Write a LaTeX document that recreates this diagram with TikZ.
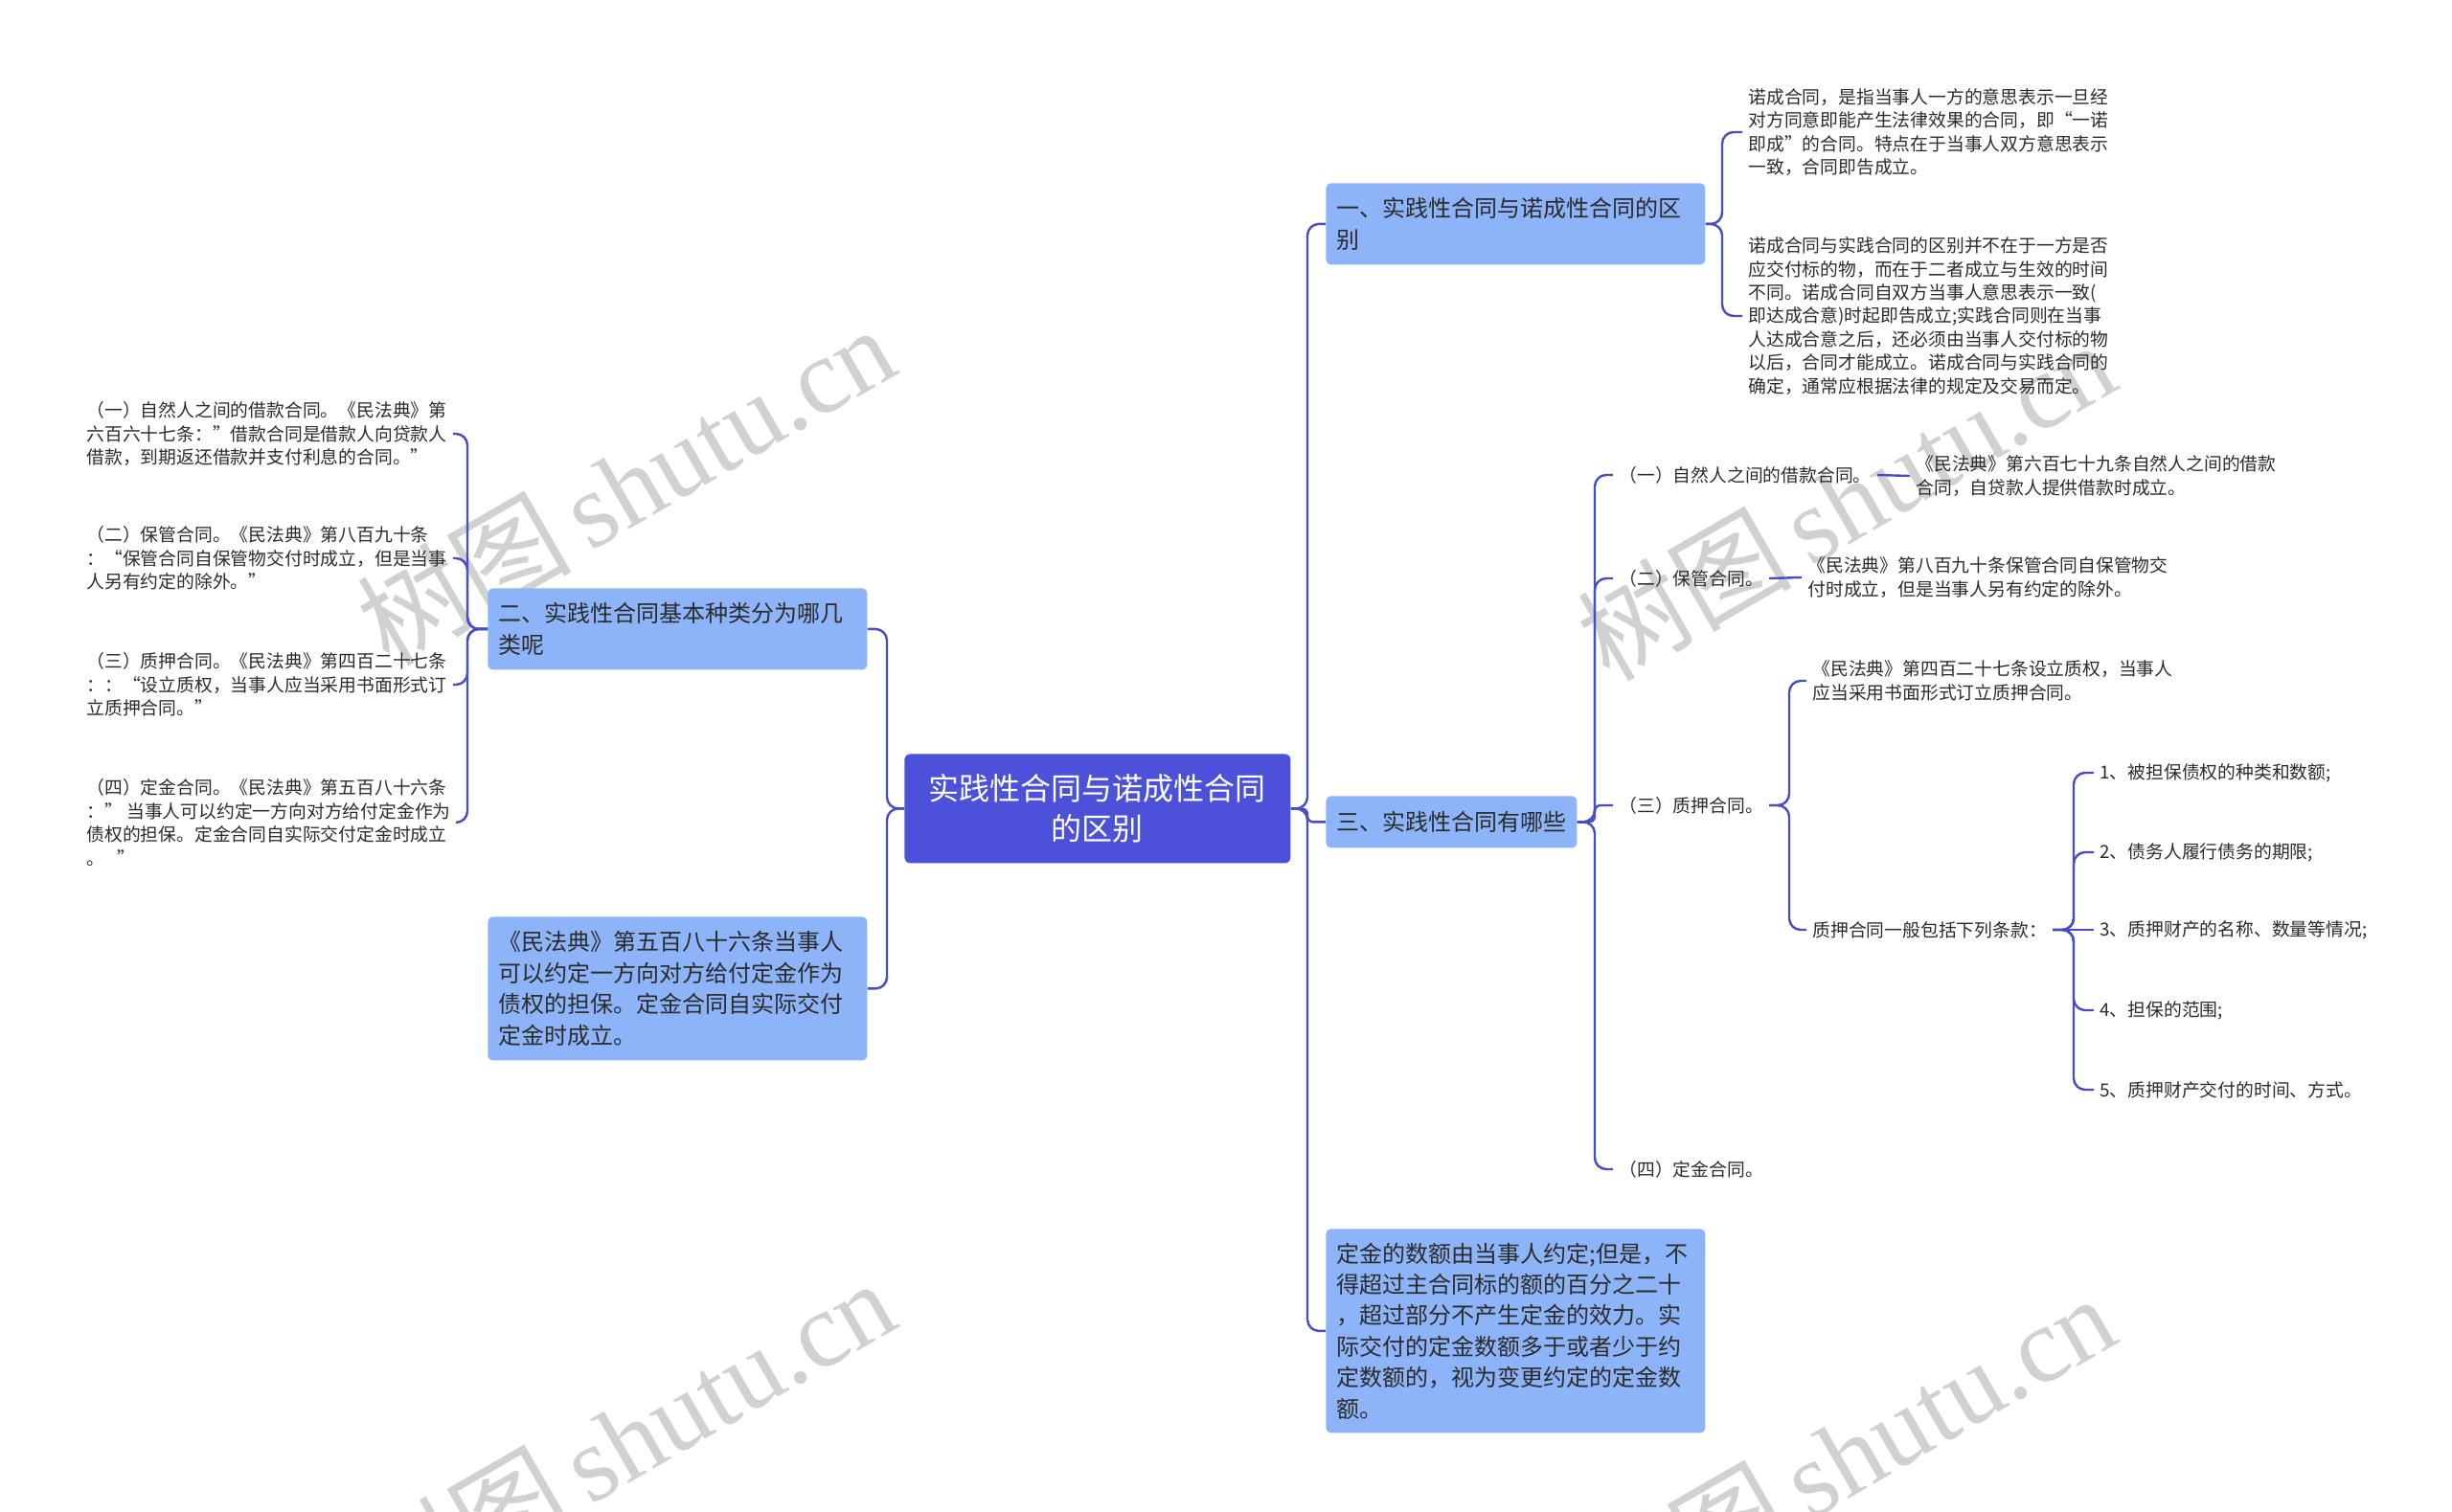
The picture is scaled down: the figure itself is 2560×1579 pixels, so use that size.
\documentclass[tikz,border=0pt]{standalone}
\usepackage{fontspec}
\setmainfont{Noto Sans CJK SC}
\newfontfamily\wmserif{Liberation Serif}
\definecolor{ctrC}{HTML}{4B51D8}
\definecolor{brC}{HTML}{8DB4F8}
\definecolor{lnC}{HTML}{474DC2}
\definecolor{txC}{HTML}{2B2B2B}
\tikzset{
  conn/.style={draw=lnC, line width=1.2pt, rounded corners=6pt},
  leaf/.style={anchor=west, inner xsep=3pt, inner ysep=2pt, align=left, text=txC, font=\fontsize{9.4pt}{12.2pt}\selectfont},
  box/.style={anchor=north west, fill=brC, rounded corners=2.5pt, text width=187pt, inner xsep=5.5pt, inner ysep=0pt, align=left, text=txC, font=\fontsize{12pt}{16.2pt}\selectfont},
  ctrbox/.style={anchor=north west, fill=ctrC, rounded corners=3pt, text=white, minimum width=201.5pt, minimum height=57pt, inner sep=0pt, align=center, font=\fontsize{16pt}{21pt}\selectfont},
  wm/.style={rotate=30, text=black!18, font=\fontsize{56pt}{60pt}\selectfont}
}
\begin{document}
\begin{tikzpicture}[x=0.5pt,y=-0.5pt]
\useasboundingbox (0,0) rectangle (2560,1579);
% watermarks
\node[wm] (w1) at (653,506) {树图\,{\wmserif shutu.cn}};
\node[wm] (w2) at (1927,522) {树图\,{\wmserif shutu.cn}};
\node[wm] (w3) at (653,1502) {树图\,{\wmserif shutu.cn}};
\node[wm] (w4) at (1927,1518) {树图\,{\wmserif shutu.cn}};
% trunk coordinates
\coordinate (tR) at (1365,0);
\coordinate (tL) at (926,0);
\coordinate (t1) at (1798,0);
\coordinate (t2) at (488,0);
\coordinate (t3) at (1665,0);
\coordinate (t33) at (1868,0);
\coordinate (t33b) at (2165,0);
% main nodes
\node[ctrbox] (c) at (944,787) {实践性合同与诺成性合同\\的区别};
\node[box, minimum height=42.5pt] (b1) at (1384,191) {一、实践性合同与诺成性合同的区\\别};
\node[box, text width=120pt, minimum height=27pt] (b3) at (1384,831) {三、实践性合同有哪些};
\node[box, minimum height=106.5pt] (b4) at (1384,1283) {定金的数额由当事人约定;但是，不\\得超过主合同标的额的百分之二十\\，超过部分不产生定金的效力。实\\际交付的定金数额多于或者少于约\\定数额的，视为变更约定的定金数\\额。};
\node[box, minimum height=42.5pt] (b2) at (509,614) {二、实践性合同基本种类分为哪几\\类呢};
\node[box, minimum height=75pt] (b5) at (509,957) {《民法典》第五百八十六条当事人\\可以约定一方向对方给付定金作为\\债权的担保。定金合同自实际交付\\定金时成立。};
% branch 1 leaves
\node[leaf] (r11) at (1819,138) {诺成合同，是指当事人一方的意思表示一旦经\\对方同意即能产生法律效果的合同，即“一诺\\即成”的合同。特点在于当事人双方意思表示\\一致，合同即告成立。};
\node[leaf] (r12) at (1819,330) {诺成合同与实践合同的区别并不在于一方是否\\应交付标的物，而在于二者成立与生效的时间\\不同。诺成合同自双方当事人意思表示一致(\\即达成合意)时起即告成立;实践合同则在当事\\人达成合意之后，还必须由当事人交付标的物\\以后，合同才能成立。诺成合同与实践合同的\\确定，通常应根据法律的规定及交易而定。};
% branch 2 leaves
\node[leaf] (l1) at (84,453) {（一）自然人之间的借款合同。《民法典》第\\六百六十七条：”借款合同是借款人向贷款人\\借款，到期返还借款并支付利息的合同。”};
\node[leaf] (l2) at (84,583) {（二）保管合同。《民法典》第八百九十条\\：“保管合同自保管物交付时成立，但是当事\\人另有约定的除外。”};
\node[leaf] (l3) at (84,715) {（三）质押合同。《民法典》第四百二十七条\\：：“设立质权，当事人应当采用书面形式订\\立质押合同。”};
\node[leaf] (l4) at (84,859) {（四）定金合同。《民法典》第五百八十六条\\：” 当事人可以约定一方向对方给付定金作为\\债权的担保。定金合同自实际交付定金时成立\\。\hspace{0.7em}”};
% branch 3 leaves
\node[leaf] (c31) at (1684,496) {（一）自然人之间的借款合同。};
\node[leaf] (c31l) at (1994,497) {《民法典》第六百七十九条自然人之间的借款\\合同，自贷款人提供借款时成立。};
\node[leaf] (c32) at (1684,604) {（二）保管合同。};
\node[leaf] (c32l) at (1881,603) {《民法典》第八百九十条保管合同自保管物交\\付时成立，但是当事人另有约定的除外。};
\node[leaf] (c33) at (1684,841) {（三）质押合同。};
\node[leaf] (c33a) at (1886,711) {《民法典》第四百二十七条设立质权，当事人\\应当采用书面形式订立质押合同。};
\node[leaf] (c33b) at (1886,971) {质押合同一般包括下列条款：};
\node[leaf] (i1) at (2186,807) {1、被担保债权的种类和数额;};
\node[leaf] (i2) at (2186,890) {2、债务人履行债务的期限;};
\node[leaf] (i3) at (2186,971) {3、质押财产的名称、数量等情况;};
\node[leaf] (i4) at (2186,1055) {4、担保的范围;};
\node[leaf] (i5) at (2186,1138) {5、质押财产交付的时间、方式。};
\node[leaf] (c34) at (1684,1221) {（四）定金合同。};
% connectors: center
\draw[conn] (c.east) -- (c.east -| tR) |- (b1.west);
\draw[conn] (c.east) -- (c.east -| tR) |- (b4.west);
\draw[conn, rounded corners=3pt] (c.east) -- (c.east -| tR) |- (b3.west);
\draw[conn] (c.west) -- (c.west -| tL) |- (b2.east);
\draw[conn] (c.west) -- (c.west -| tL) |- (b5.east);
% branch 1
\draw[conn] (b1.east) -- (b1.east -| t1) |- (r11.west);
\draw[conn] (b1.east) -- (b1.east -| t1) |- (r12.west);
% branch 2
\draw[conn] (b2.west) -- (b2.west -| t2) |- (l1.east);
\draw[conn] (b2.west) -- (b2.west -| t2) |- (l2.east);
\draw[conn] (b2.west) -- (b2.west -| t2) |- (l3.east);
\draw[conn] (b2.west) -- (b2.west -| t2) |- (l4.east);
% branch 3
\draw[conn] (b3.east) -- (b3.east -| t3) |- (c31.west);
\draw[conn] (b3.east) -- (b3.east -| t3) |- (c32.west);
\draw[conn, rounded corners=3pt] (b3.east) -- (b3.east -| t3) |- (c33.west);
\draw[conn] (b3.east) -- (b3.east -| t3) |- (c34.west);
\draw[conn] (c31.east) -- (c31l.west);
\draw[conn] (c32.east) -- (c32l.west);
\draw[conn] (c33.east) -- (c33.east -| t33) |- (c33a.west);
\draw[conn] (c33.east) -- (c33.east -| t33) |- (c33b.west);
\draw[conn] (c33b.east) -- (c33b.east -| t33b) |- (i1.west);
\draw[conn] (c33b.east) -- (c33b.east -| t33b) |- (i2.west);
\draw[conn] (c33b.east) -- (i3.west);
\draw[conn] (c33b.east) -- (c33b.east -| t33b) |- (i4.west);
\draw[conn] (c33b.east) -- (c33b.east -| t33b) |- (i5.west);
\end{tikzpicture}
\end{document}
